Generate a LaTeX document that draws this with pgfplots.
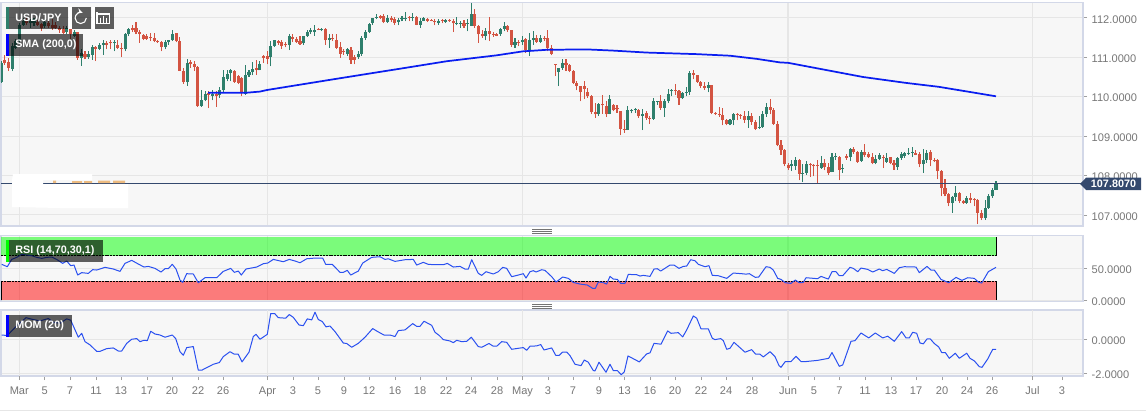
\documentclass[border=0pt]{standalone}
\usepackage{fontspec}
\setmainfont{Liberation Sans}
\usepackage{pgfplots}
\usepackage{pgfplotstable}
\pgfplotsset{compat=1.18}

\definecolor{panelbg}{HTML}{F7F7F7}
\definecolor{gridc}{HTML}{E6E6E6}
\definecolor{borderc}{HTML}{D3D8E8}
\definecolor{labelc}{HTML}{767676}
\definecolor{upc}{HTML}{2E7F6C}
\definecolor{downc}{HTML}{D35442}
\definecolor{lastc}{HTML}{34496E}
\definecolor{smac}{HTML}{0A1EF0}
\definecolor{oscc}{HTML}{2A50F0}
\definecolor{logoc}{HTML}{EDBB80}

% k = candles before the last one, then open high low close
\pgfplotstableread{
k o h l c
273 110.37 110.90 110.35 110.86
272 110.94 111.07 110.81 110.86
271 110.87 110.98 110.65 110.73
270 110.71 111.37 110.65 111.28
269 111.24 111.47 111.20 111.41
268 111.41 111.87 111.37 111.83
267 111.83 112.00 111.79 111.92
266 111.92 112.00 111.81 111.86
265 111.86 111.96 111.75 111.92
264 111.86 112.00 111.80 111.97
263 111.89 111.94 111.79 111.83
262 111.85 111.87 111.66 111.75
261 111.80 111.96 111.75 111.89
260 111.86 111.92 111.75 111.80
259 111.83 111.96 111.70 111.75
258 111.83 111.90 111.72 111.75
257 111.75 111.79 111.62 111.70
256 111.72 111.79 111.58 111.62
255 111.64 111.79 111.58 111.75
254 111.79 111.83 111.47 111.58
253 111.55 111.69 111.52 111.64
252 111.64 111.64 110.94 110.99
251 110.99 111.20 110.79 111.11
250 111.08 111.15 110.95 111.02
249 111.01 111.15 110.96 111.09
248 111.07 111.30 110.94 111.26
247 111.26 111.28 110.90 111.21
246 111.21 111.35 111.18 111.30
245 111.31 111.45 111.07 111.37
244 111.35 111.41 111.20 111.31
243 111.38 111.43 111.20 111.35
242 111.36 111.43 111.15 111.38
241 111.31 111.45 111.20 111.24
240 111.24 111.35 111.01 111.21
239 111.20 111.62 111.15 111.59
238 111.59 111.75 111.53 111.72
237 111.75 111.81 111.64 111.70
236 111.74 111.90 111.58 111.64
235 111.64 111.70 111.37 111.59
234 111.56 111.60 111.43 111.47
233 111.53 111.58 111.45 111.47
232 111.52 111.62 111.41 111.48
231 111.49 111.62 111.38 111.41
230 111.41 111.45 111.36 111.38
229 111.38 111.41 111.15 111.26
228 111.26 111.43 111.20 111.38
227 111.38 111.45 111.32 111.43
226 111.43 111.70 111.41 111.59
225 111.62 111.62 111.38 111.41
224 111.41 111.51 110.65 110.66
223 110.66 110.73 110.33 110.37
222 110.37 110.96 110.28 110.86
221 110.87 110.94 110.73 110.82
220 110.82 110.90 110.65 110.76
219 110.75 110.79 109.74 109.76
218 109.76 110.18 109.74 109.91
217 109.91 110.14 109.88 110.08
216 110.10 110.14 109.71 110.05
215 110.03 110.16 109.91 110.07
214 110.08 110.14 109.74 110.03
213 110.05 110.24 109.97 110.16
212 110.16 110.67 110.10 110.49
211 110.45 110.67 110.39 110.57
210 110.59 110.70 110.39 110.69
209 110.66 110.69 110.35 110.37
208 110.52 110.54 110.31 110.35
207 110.48 110.50 110.01 110.10
206 110.07 110.81 110.05 110.54
205 110.54 110.69 110.50 110.62
204 110.62 110.87 110.54 110.71
203 110.73 110.94 110.56 110.67
202 110.67 110.90 110.67 110.83
201 111.03 111.07 110.86 110.98
200 111.03 111.15 110.82 110.96
199 111.01 111.41 110.77 111.28
198 111.28 111.45 111.26 111.43
197 111.41 111.45 111.32 111.37
196 111.38 111.43 111.22 111.28
195 111.33 111.40 111.25 111.30
194 111.32 111.58 111.18 111.53
193 111.52 111.58 111.38 111.47
192 111.47 111.52 111.37 111.38
191 111.41 111.53 111.32 111.34
190 111.35 111.55 111.32 111.55
189 111.53 111.69 111.52 111.64
188 111.64 111.75 111.59 111.68
187 111.64 111.83 111.55 111.70
186 111.72 111.75 111.68 111.70
185 111.69 111.75 111.66 111.72
184 111.72 111.75 111.32 111.43
183 111.45 111.58 111.24 111.48
182 111.48 111.58 111.41 111.46
181 111.43 111.58 111.21 111.24
180 111.26 111.38 110.99 111.09
179 111.17 111.21 111.07 111.13
178 111.09 111.24 111.03 111.20
177 111.18 111.26 110.84 110.93
176 111.01 111.07 110.82 110.93
175 111.01 111.15 110.96 111.09
174 111.09 111.53 111.04 111.49
173 111.49 111.70 111.45 111.64
172 111.64 111.87 111.62 111.85
171 111.86 112.00 111.83 112.00
170 112.00 112.11 111.96 112.03
169 112.04 112.08 111.96 112.00
168 112.04 112.11 111.86 111.89
167 111.89 112.08 111.87 112.00
166 112.00 112.04 111.89 111.94
165 111.96 112.02 111.83 111.87
164 111.89 112.00 111.81 111.94
163 111.96 112.04 111.91 112.00
162 111.96 112.14 111.91 112.00
161 112.02 112.06 111.91 112.00
160 112.00 112.13 111.91 112.03
159 112.03 112.04 111.81 111.83
158 111.83 112.00 111.75 111.92
157 111.93 112.02 111.91 112.00
156 111.97 112.00 111.89 111.93
155 111.95 111.98 111.91 111.93
154 111.92 111.96 111.81 111.89
153 111.87 111.96 111.83 111.91
152 111.94 111.97 111.86 111.92
151 111.90 111.96 111.87 111.94
150 111.94 111.96 111.90 111.92
149 111.92 111.97 111.64 111.86
148 111.86 112.03 111.81 111.87
147 111.86 111.92 111.75 111.87
146 111.87 111.94 111.75 111.79
145 111.86 111.96 111.66 111.87
144 111.80 112.38 111.79 112.10
143 112.10 112.23 111.75 111.80
142 111.80 111.83 111.37 111.58
141 111.60 111.70 111.49 111.53
140 111.53 111.75 111.43 111.66
139 111.66 112.03 111.41 111.59
138 111.59 111.64 111.52 111.56
137 111.58 111.62 111.53 111.55
136 111.58 111.75 111.55 111.73
135 111.73 111.89 111.66 111.79
134 111.79 111.83 111.64 111.68
133 111.68 111.70 111.26 111.32
132 111.31 111.49 111.24 111.40
131 111.38 111.43 111.28 111.37
130 111.38 111.53 111.32 111.45
129 111.47 111.49 111.11 111.18
128 111.18 111.62 111.03 111.43
127 111.43 111.66 111.32 111.49
126 111.49 111.56 111.37 111.39
125 111.39 111.56 111.37 111.49
124 111.49 111.55 111.41 111.47
123 111.48 111.70 111.15 111.24
122 111.24 111.31 111.05 111.09
121 110.82 110.83 110.52 110.80
120 110.63 110.73 110.27 110.73
119 110.73 110.96 110.69 110.86
118 110.86 110.96 110.65 110.80
117 110.80 110.83 110.62 110.65
116 110.65 110.67 110.32 110.35
115 110.35 110.41 110.16 110.28
114 110.27 110.28 109.88 110.11
113 110.27 110.39 109.94 110.20
112 110.11 110.22 109.97 110.01
111 110.01 110.05 109.57 109.61
110 109.61 109.84 109.46 109.55
109 109.55 109.84 109.52 109.82
108 109.82 110.05 109.57 109.78
107 109.76 109.88 109.49 109.55
106 109.57 110.04 109.55 109.94
105 109.78 109.82 109.63 109.65
104 109.72 109.78 109.59 109.69
103 109.63 109.63 109.02 109.18
102 109.18 109.40 109.08 109.15
101 109.16 109.76 109.15 109.66
100 109.66 109.70 109.58 109.67
99 109.66 109.72 109.59 109.68
98 109.66 109.69 109.46 109.50
97 109.52 109.69 109.15 109.57
96 109.59 109.63 109.42 109.45
95 109.46 109.50 109.32 109.43
94 109.44 109.96 109.42 109.88
93 109.87 109.90 109.80 109.88
92 109.88 110.05 109.67 109.72
91 109.72 109.93 109.49 109.88
90 109.88 110.20 109.83 110.08
89 110.14 110.20 110.01 110.18
88 110.16 110.33 110.05 110.14
87 110.14 110.18 109.80 109.96
86 109.96 110.11 109.94 110.10
85 110.10 110.25 110.01 110.12
84 110.12 110.66 110.05 110.60
83 110.60 110.67 110.44 110.56
82 110.54 110.56 110.35 110.38
81 110.38 110.41 110.22 110.27
80 110.28 110.38 110.18 110.22
79 110.23 110.37 110.11 110.30
78 110.30 110.30 109.55 109.59
77 109.59 109.62 109.53 109.56
76 109.57 109.73 109.49 109.54
75 109.53 109.72 109.27 109.40
74 109.40 109.44 109.27 109.31
73 109.32 109.44 109.27 109.40
72 109.40 109.59 109.27 109.56
71 109.56 109.59 109.40 109.54
70 109.54 109.57 109.44 109.52
69 109.50 109.63 109.33 109.42
68 109.42 109.63 109.21 109.50
67 109.50 109.59 109.29 109.37
66 109.36 109.42 109.15 109.18
65 109.21 109.52 109.18 109.23
64 109.22 109.63 109.21 109.55
63 109.55 109.83 109.49 109.74
62 109.74 109.93 109.55 109.67
61 109.67 109.71 109.29 109.32
60 109.32 109.38 108.74 108.77
59 108.77 108.91 108.53 108.66
58 108.66 108.68 108.23 108.28
57 108.26 108.32 108.15 108.19
56 108.25 108.39 108.11 108.29
55 108.25 108.46 108.15 108.40
54 108.40 108.42 107.88 108.05
53 108.05 108.28 107.83 108.07
52 108.07 108.36 108.02 108.30
51 108.30 108.32 107.96 108.26
50 108.26 108.28 107.98 108.23
49 108.26 108.40 107.81 108.23
48 108.19 108.50 108.17 108.32
47 108.32 108.42 108.13 108.21
46 108.21 108.32 108.02 108.07
45 108.09 108.57 108.08 108.47
44 108.47 108.57 108.40 108.49
43 108.47 108.49 107.88 108.15
42 108.17 108.28 108.07 108.19
41 108.49 108.55 108.40 108.44
40 108.46 108.70 108.36 108.67
39 108.68 108.73 108.55 108.59
38 108.59 108.62 108.32 108.35
37 108.38 108.66 108.35 108.59
36 108.59 108.80 108.47 108.51
35 108.54 108.59 108.44 108.47
34 108.47 108.56 108.28 108.32
33 108.32 108.53 108.28 108.42
32 108.42 108.56 108.40 108.51
31 108.47 108.53 108.19 108.44
30 108.35 108.56 108.32 108.44
29 108.46 108.47 108.28 108.32
28 108.32 108.39 108.15 108.26
27 108.22 108.47 108.15 108.44
26 108.45 108.59 108.40 108.55
25 108.49 108.59 108.45 108.57
24 108.57 108.70 108.53 108.58
23 108.58 108.73 108.47 108.59
22 108.57 108.66 108.51 108.53
21 108.55 108.59 108.21 108.28
20 108.28 108.67 108.07 108.39
19 108.39 108.64 108.32 108.57
18 108.59 108.64 108.23 108.40
17 108.40 108.45 108.34 108.36
16 108.39 108.42 107.90 108.11
15 108.11 108.13 107.47 107.69
14 107.69 107.90 107.47 107.53
13 107.53 107.56 107.22 107.30
12 107.30 107.47 107.05 107.46
11 107.46 107.73 107.35 107.56
10 107.56 107.58 107.30 107.35
9 107.35 107.37 107.29 107.30
8 107.30 107.47 107.29 107.43
7 107.43 107.56 107.30 107.39
6 107.41 107.43 107.22 107.37
5 107.39 107.41 106.77 107.05
4 107.05 107.13 106.87 106.92
3 106.92 107.39 106.88 107.18
2 107.18 107.52 107.16 107.47
1 107.47 107.69 107.43 107.64
0 107.64 107.85 107.63 107.81
}\candles

\pgfplotsset{
  panel/.style={
    scale only axis, width=811.5pt,
    xmin=1, xmax=1083,
    axis background/.style={fill=panelbg},
    axis line style={borderc, line width=0.8pt},
    grid=major, grid style={gridc, line width=0.8pt},
    tick align=outside, major tick length=3pt,
    ytick pos=right, yticklabel pos=right,
    ytick style={labelc!70, line width=0.6pt},
    xtick style={draw=none},
    xtick={19.3,267.5,522.5,788,1032.5}, xticklabels={},
    tick label style={font=\fontsize{8.3}{10}\selectfont, text=labelc},
    /pgf/number format/assume math mode=true,
    yticklabel style={yshift=-1pt, /pgf/number format/.cd, fixed, fixed zerofill, precision=4, 1000 sep={}},
  },
  osc/.style={oscc, line width=0.75pt, mark=none, line join=round},
}

% one candle colour: wicks first, then bodies
\newcommand{\candleplot}[3]{%
  \addplot[draw=none, mark=none, forget plot, error bars/.cd, y dir=plus, y explicit,
    error mark=none, error bar style={#1, line width=0.8pt}]
    table[x expr={#2 ? 996-3.644*\thisrow{k} : nan}, y=l,
      y error plus expr=\thisrow{h}-\thisrow{l}] {\candles};
  \addplot[draw=none, mark=none, forget plot, error bars/.cd, y dir=plus, y explicit,
    error mark=none, error bar style={#1, line width=2.3pt}]
    table[x expr={#2 ? 996-3.644*\thisrow{k} : nan}, y=#3,
      y error plus expr=abs(\thisrow{c}-\thisrow{o})] {\candles};
}

\newcommand{\pill}[5]{% x0 x1 y0 y1, accent colour
  \fill[black, fill opacity=0.62] (#1,#3) rectangle (#2,#4);
  \fill[#5] (#1,#3) rectangle (#1+3,#4);
}

\begin{document}
\begin{tikzpicture}[x=0.75pt, y=-0.75pt]
\useasboundingbox (0,0) rectangle (1146,412);

% price panel
\begin{axis}[panel, at={(0.75pt,-1.875pt)}, anchor=north west, height=167.6pt,
    ymin=106.72, ymax=112.39, ytick={107,108,109,110,111,112}]
  \candleplot{upc}{\thisrow{c}>=\thisrow{o}}{o}
  \candleplot{downc}{\thisrow{c}<\thisrow{o}}{c}
  \addplot[smac, line width=1.3pt, mark=none, line join=round] coordinates {
    (208,110.10) (246,110.10) (260,110.13) (267,110.17) (333,110.44) (380,110.63) (400,110.71)
    (446.7,110.90) (496.7,111.05) (522.7,111.15) (546.7,111.19) (586.7,111.20) (613,111.17)
    (646.7,111.12) (696.7,111.08) (730,111.04) (756.7,110.96) (780,110.87) (788,110.86)
    (863,110.50) (906,110.35) (939,110.25) (996,110.01)};
  \addplot[lastc, line width=0.8pt, mark=none] coordinates {(1,107.807) (1083,107.807)};
\end{axis}

% RSI panel
\begin{axis}[panel, at={(0.75pt,-176.775pt)}, anchor=north west, height=49pt,
    ymin=-1, ymax=101, ytick={0,50}]
  \addplot[draw=none, fill=green, fill opacity=0.5, forget plot] coordinates
    {(1,70) (996.5,70) (996.5,98.5) (1,98.5)} -- cycle;
  \addplot[draw=none, fill=red, fill opacity=0.5, forget plot] coordinates
    {(1,0) (996.5,0) (996.5,30) (1,30)} -- cycle;
  \addplot[black, dash pattern=on 1.5pt off 0.6pt, line width=0.6pt, mark=none] coordinates {(1,70) (996.5,70)};
  \addplot[black, dash pattern=on 1.5pt off 0.6pt, line width=0.6pt, mark=none] coordinates {(1,30) (996.5,30)};
  \addplot[black, line width=0.7pt, mark=none] coordinates {(996.5,70) (996.5,98.5)};
  \addplot[black, line width=0.7pt, mark=none] coordinates {(996.5,0) (996.5,30)};
  \addplot[black, line width=0.7pt, mark=none] coordinates {(1.3,0) (1.3,30)};
  \addplot[osc] coordinates {
    (1.7,56.3) (7.3,52.6) (11.7,64) (16.7,67.2) (21.7,71.9) (26.7,70.8) (31.7,69.8) (36.7,67.2)
    (41.7,65.6) (46.7,67.2) (51.7,67.7) (56.7,64) (62.7,57.8) (66.7,61.5) (70.7,54.2) (74,55.2)
    (77.7,39.6) (81.7,43.3) (88.3,42.2) (92.7,48) (96.7,47.4) (105,51.6) (113.3,49) (120,45.3)
    (125,57.8) (131.7,62.5) (138.3,56.8) (144,52.1) (148.3,53.1) (155,50) (161,44.3) (165,49.5)
    (168.3,49.5) (172.3,56.3) (176,49) (180,31.8) (182.7,28.1) (186.7,41.7) (193.3,41.2)
    (198.3,27.6) (205,35.4) (216.7,35.4) (223.3,45.3) (230.7,50) (234.3,43.8) (238.3,45.8)
    (241.3,39.6) (246,49) (256.7,52.1) (263.3,57.3) (267.7,58.3) (273.3,64) (283.3,60.4)
    (289.3,64) (295,61.5) (300,58.8) (306.7,65) (315,66.1) (322.7,66.1) (325.7,56.3) (332.3,56.3)
    (340,43.8) (343.3,43.8) (347.3,46.9) (350.7,39.6) (358.3,45.8) (362.7,58.3) (371.7,67.2)
    (380,68.2) (385,64) (388.3,65) (395,60.9) (405,63.5) (413.3,64) (416.7,55.2) (423.3,59.4)
    (428.3,56.3) (435,55.7) (443.3,55.7) (447.3,57.8) (453.3,52.1) (460,53.1) (465,48.9)
    (468.3,48.9) (471.7,63.5) (478.3,42.2) (481.7,39.1) (486,44.8) (493.3,41.2) (498.3,44.8)
    (502.7,51.6) (506.7,50) (511.7,37) (518.3,39.6) (523.3,41.7) (526,34.9) (530,44.8) (533.3,46.4)
    (536,44.3) (541.7,47.9) (545,46.9) (551.7,37) (556,28.6) (562.7,36.5) (568.3,34.4) (573.3,28.1)
    (580,25.5) (587.3,24) (592.7,18.8) (595.3,18.8) (598.3,28.6) (602.7,28.1) (606.7,25.5)
    (610,37.5) (613.3,33.3) (617.3,32.8) (620.7,26.6) (625,26.6) (628.3,40.6) (636.7,40.1) (640,38)
    (643.3,39.1) (650,37.5) (654,48.9) (657.3,49.5) (660.7,45.8) (670,55.2) (674,55.2) (679,50)
    (683.3,53.1) (686.7,53.6) (690.7,63.5) (695,61.9) (698.3,56.3) (705,52.6) (709,54.2) (712.3,39.1)
    (718.3,38.5) (726.7,34.4) (733.3,42.7) (741.7,41.7) (746,41) (749.3,41.7) (755.3,36) (758.7,36.5)
    (766,52.6) (770,51.6) (773.3,47.4) (777.7,34.4) (781,32.8) (785.3,27.6) (791,26.6) (795.3,31.8)
    (799.3,27.6) (803.3,28.1) (806,35.4) (817.7,33.9) (821,37.5) (828.3,33.3) (832,44.8) (836,44.8)
    (839.3,38.5) (842.7,38.5) (850,51.6) (853.3,50) (857.7,44.8) (861,50.5) (867.7,48.4) (872.7,44.3)
    (879.3,49) (882.7,46.4) (886.7,48.4) (894.3,42.2) (899.3,51) (904.3,52.6) (916,52.1) (919.3,43.3)
    (927,53.1) (931,47.4) (934.3,47.4) (941,32.8) (948.7,27.6) (956,35.9) (962,31.3) (967.7,35.4)
    (974.3,34.4) (978.3,28.6) (981.7,27.1) (988.3,44.8) (996,51.6)};
\end{axis}

% momentum panel, carries the date axis
\begin{axis}[panel, at={(0.75pt,-232.5pt)}, anchor=north west, height=49.5pt,
    ymin=-2.16, ymax=1.72, ytick={-2,0},
    xtick style={draw, labelc!70, line width=0.6pt}, xtick pos=bottom,
    xmajorgrids=false,
    xtick={44.7,70,96,121,147,172,198,223,293,318,344,369,395,420,446,471,497,548,573,599,624.5,650,675,701,726,752,814,839.5,865,891,916,942,967,992,1062},
    xticklabels={5,7,11,13,17,20,22,26,3,5,9,12,16,18,22,24,28,3,7,9,13,16,20,22,24,28,5,7,11,13,17,20,24,26,3},
    extra x ticks={19.3,267.5,522.5,788,1032.5},
    extra x tick labels={Mar,Apr,May,Jun,Jul},
    extra x tick style={grid=major},
    xticklabel style={anchor=base, yshift=-10.5pt}]
  \addplot[osc] coordinates {
    (1.7,.25) (7.3,.22) (15,.69) (26,1.27) (31.7,1.18) (40,1.08) (48.3,1.22) (53.3,1.0) (60,.94)
    (66.7,1.2) (70.7,1.12) (74,.69) (78.3,.12) (81.7,.35) (85,-.14) (90,-.33) (96.7,-.71) (100,-.71)
    (106.7,-.55) (113.3,-.51) (118.3,-.69) (121.7,-.69) (126.7,-.24) (131.7,0) (136.7,.04) (140,-.14)
    (144,-.06) (147.3,-.08) (150.7,.47) (155,.31) (160,.25) (165,.12) (172.3,.25) (175.7,.04)
    (180,-.73) (183.3,-.94) (186.7,-.49) (193.3,-.43) (198.3,-1.82) (201.7,-1.82) (213.3,-1.47)
    (219.3,-1.37) (223.3,-1.02) (230,-.73) (234.3,-.88) (238.3,-.88) (242,-1.33) (249,-.76)
    (253.3,.16) (256,.29) (260,0) (267.3,.29) (270.7,1.51) (274.7,1.51) (278.3,1.27) (285.7,1.24)
    (289.3,1.45) (293.3,1.29) (299,.84) (303.3,.8) (307.3,1.2) (311.7,1.14) (315,1.59) (318.3,1.16)
    (322.3,1.04) (326,.73) (330,.78) (335,.45) (343.3,-.22) (346.7,-.25) (351.7,-.47) (358.3,-.24)
    (365,.12) (372.7,.63) (377.7,.45) (384,.25) (390,.25) (395,.16) (398.3,.51) (405,.55) (412.7,.92)
    (416.7,.76) (420,.76) (424,1.06) (431.7,.82) (435,.41) (439.3,.22) (443.3,-.02) (450,-.1)
    (453.3,-.2) (456.7,-.06) (461.7,-.14) (466.7,-.12) (471.3,.12) (478.3,-.43) (481.7,-.47)
    (489,-.25) (493.3,-.41) (496.7,-.41) (501.7,-.14) (506.7,-.18) (511.7,-.59) (518.3,-.53)
    (523.3,-.49) (526.7,-.65) (530,-.41) (536.7,-.39) (540.7,-.31) (544,-.63) (551.7,-.51) (555.7,-.94)
    (559.3,-.94) (562.7,-.75) (566.7,-.75) (570,-.96) (575,-1.47) (581,-1.55) (584.3,-1.22)
    (588.3,-1.35) (593.3,-1.84) (595,-1.86) (599,-1.35) (606,-1.94) (610,-1.47) (613.3,-1.84)
    (617.3,-1.84) (621.3,-2.08) (624.3,-1.92) (628,-.98) (639.3,-1.33) (646.7,-.86) (650,-.8)
    (654,-.24) (661,-.29) (667.7,.49) (671,.35) (678.3,.39) (682.7,.14) (686.7,.55) (693.3,1.37)
    (696.7,1.24) (701,.61) (708.3,.61) (712.3,.06) (715,-.02) (720.7,.04) (723.3,-.08) (726.7,-.59)
    (730,-.53) (734,-.18) (745,-.76) (751.7,-.61) (755.7,-.88) (760,-.88) (763.3,-1.04) (770,-.73)
    (775,-1.02) (779,-1.55) (781,-1.65) (785.3,-1.31) (791,-1.31) (796,-1.0) (801,-1.31) (806,-1.31)
    (817.7,-1.24) (828.7,-1.12) (832,-.78) (839.3,-1.59) (842.7,-1.51) (851,-.12) (855,-.08) (861,.37)
    (868.7,.08) (875.3,.37) (882.7,.08) (887.7,.18) (894.3,-.12) (901.7,.45) (906,.08) (909.3,.08)
    (912.7,.41) (916.7,.35) (920,-.22) (923.3,-.27) (927,.02) (930.3,.02) (934.3,-.25) (938.7,-.45)
    (941.7,-.78) (945.3,-.78) (949.3,-1.12) (955.3,-.82) (959.3,-1.12) (966.7,-.82) (970,-1.12)
    (974.3,-1.27) (979.3,-1.61) (982,-1.65) (987.7,-1.16) (992.7,-.59) (996,-.59)};
\end{axis}

% erased watermark patch over the price panel
\fill[white] (13,174) -- (92,174) -- (92,180) -- (43,180) -- (43,184) -- (128,184) -- (128,208) -- (60,208) -- (12,207) -- (12,180) -- cycle;
\fill[logoc] (53,180.5) rectangle (56,183) (72,181) rectangle (82,183) (84,181) rectangle (92,183)
  (98,180.5) rectangle (110,183) (113,180.5) rectangle (125,183);

% last price tag
\fill[lastc] (1080,184) -- (1086,177.7) -- (1141,177.7) -- (1141,190) -- (1086,190) -- cycle;
\node[white, font=\fontsize{8.1}{10}\selectfont\bfseries, inner sep=0pt] at (1113.5,184) {107.8070};

% panel resize grips
\foreach \yy in {229.5,231.3,233,304.5,306.3,308}
  \draw[black!55, line width=0.5pt] (532,\yy) -- (552,\yy);
\draw[gridc, line width=0.7pt] (0,410.5) -- (1146,410.5);

% chart toolbar and indicator labels
\pill{6}{68}{7}{29}{upc}
\pill{69}{91}{7}{29}{black!0}
\pill{92}{114}{7}{29}{black!0}
\pill{6}{83}{34}{56}{blue}
\pill{6}{103}{240}{262}{green}
\pill{6}{72}{315}{337}{blue}
\begin{scope}[every node/.style={white, anchor=west, inner sep=0pt, font=\fontsize{8.1}{10}\selectfont\bfseries}]
  \node at (15,18) {USD/JPY};
  \node at (15,45) {SMA (200,0)};
  \node at (15,251) {RSI (14,70,30,1)};
  \node at (15,326) {MOM (20)};
\end{scope}
\draw[white, line width=0.8pt, -stealth] (86.3,18) arc[start angle=0, end angle=290, radius=5.6];
\draw[white, line width=0.8pt] (97,14) -- (109.5,14) -- (109.5,23.5) -- (97,23.5) -- (97,12);
\draw[white, line width=0.8pt] (100.5,17.5) -- (100.5,23.5) (103.5,16) -- (103.5,23.5) (106.5,17.5) -- (106.5,23.5);
\end{tikzpicture}
\end{document}
